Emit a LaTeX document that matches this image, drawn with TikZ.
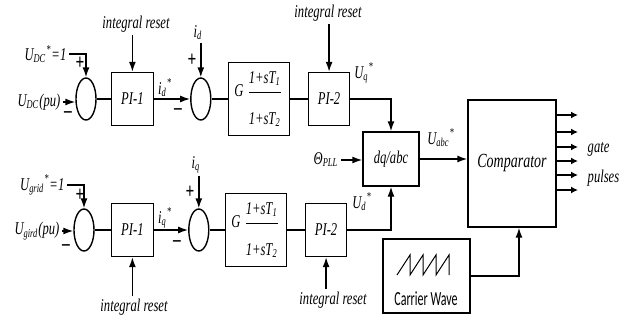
\documentclass[tikz,border=0pt]{standalone}
\usepackage{fontspec}
\setmainfont{Liberation Serif}[FakeStretch=0.7]
\newfontfamily\carrierfont{Carlito}[FakeStretch=0.6]
\usetikzlibrary{arrows.meta,positioning,shapes.geometric}
\newcommand{\tsub}[1]{\textsubscript{#1}}
\newcommand{\tsup}[1]{\textsuperscript{#1}}
\newcommand{\leadlag}{G\,$\displaystyle\frac{\mbox{1+sT\tsub{1}}\rule[-3pt]{0pt}{0pt}}{\rule{0pt}{15pt}\mbox{1+sT\tsub{2}}}$}

\begin{document}
\begin{tikzpicture}[x=0.5pt,y=-0.5pt,line width=0.7pt,>={Latex[length=5pt,width=3.5pt]},
  every node/.style={font=\fontsize{9}{10}\selectfont\itshape,inner sep=1pt},
  sumnode/.style={draw,ellipse,minimum width=10pt,minimum height=21pt,inner sep=0pt},
  blk/.style={draw,minimum width=21pt,minimum height=26.5pt},
  sgn/.style={font=\fontsize{11}{11}\selectfont\bfseries,inner sep=0pt}]
\useasboundingbox (0,0) rectangle (644,322);

% d row
\node[sumnode] (s1) at (86,99) {};
\node[blk,right=7pt of s1] (p1) {PI-1};
\node[sumnode,right=18pt of p1] (s2) {};
\node[blk,right=8pt of s2,minimum width=30.5pt,minimum height=36.5pt,inner sep=0pt] (g1) {\leadlag};
\node[blk,right=9pt of g1,minimum width=20.5pt] (q1) {PI-2};

% q row
\node[sumnode] (s3) at (84,230) {};
\node[blk,right=8pt of s3] (p3) {PI-1};
\node[sumnode,right=17pt of p3] (s4) {};
\node[blk,right=7.5pt of s4,minimum width=30.5pt,minimum height=36.5pt,inner sep=0pt] (g2) {\leadlag};
\node[blk,right=9pt of g2,minimum width=20.5pt] (q2) {PI-2};

\node[blk,minimum width=28pt,minimum height=27pt] (dq) at (391,159) {dq/abc};
\node[draw,minimum width=44pt,minimum height=63.5pt,font=\fontsize{10}{12}\selectfont\itshape] (cmp) at (512,163.5) {Comparator};
\node[draw,minimum width=43.5pt,minimum height=37pt] (cw) at (426.5,276) {};
\node[font=\fontsize{10}{12}\selectfont\carrierfont] (cwt) at (426,299) {Carrier Wave};
\draw[line width=0.5pt] (397,275) -- (410,255) -- (410,275) -- (423,255) -- (423,275)
  -- (436,255) -- (436,275) -- (449,255) -- (449,275);

% labels
\node[anchor=east] (udcr) at (69,54) {U\tsub{DC}\tsup{*}=1};
\node[anchor=east] (udc) at (63,102) {U\tsub{DC}(pu)};
\node[sgn] (pl1) at (80,63) {+};
\node[sgn] (mi1) at (68,115) {–};
\node (ir1) at (136,24) {integral reset};
\node (id) at (198,33) {i\tsub{d}};
\node (idr) at (165,88) {i\tsub{d}\tsup{*}};
\node[sgn] (pl2) at (192,60) {+};
\node[sgn] (mi2) at (178,112) {–};
\node (ir2) at (328,13) {integral reset};
\node (uq) at (364,73) {U\tsub{q}\tsup{*}};

\node[anchor=east] (ugr) at (67,185) {U\tsub{grid}\tsup{*}=1};
\node[anchor=east] (ug) at (62,231) {U\tsub{gird}(pu)};
\node[sgn] (pl3) at (80,195) {+};
\node[sgn] (mi3) at (66,248) {–};
\node (ir3) at (134,307) {integral reset};
\node (iq) at (196,165) {i\tsub{q}};
\node (iqr) at (165,218) {i\tsub{q}\tsup{*}};
\node[sgn] (pl4) at (190,192) {+};
\node[sgn] (mi4) at (177,244) {–};
\node (ir4) at (333,300) {integral reset};
\node (ud) at (362,202) {U\tsub{d}\tsup{*}};

\node[anchor=east] (th) at (341,160) {Θ\tsub{PLL}};
\node (uabc) at (441,138) {U\tsub{abc}\tsup{*}};
\node[anchor=west] (gt) at (585,149) {gate};
\node[anchor=west] (pu) at (585,178) {pulses};

% connectors
\draw[->] (udcr.east) -| (s1.north);
\draw[->] (udc.east) -- (udc.east -| s1.west);
\draw (s1) -- (p1);
\draw[->] (ir1.south -| p1.north) -- (p1.north);
\draw[->] (p1) -- (s2);
\draw[->] (s2.north |- id.south) -- (s2.north);
\draw (s2) -- (g1);
\draw (g1) -- (q1);
\draw[->] (ir2.south -| q1.north) -- (q1.north);
\draw[->] (q1.east) -| (dq.north);

\draw[->] (ugr.east) -| (s3.north);
\draw[->] (ug.east) -- (ug.east -| s3.west);
\draw (s3) -- (p3);
\draw[->] (ir3.north -| p3.south) -- (p3.south);
\draw[->] (p3) -- (s4);
\draw[->] (s4.north |- iq.south) -- (s4.north);
\draw (s4) -- (g2);
\draw (g2) -- (q2);
\draw[->] (q2.south |- ir4.north) -- (q2.south);
\draw[->] (q2.east) -| (dq.south);

\draw[->] (th.east) -- (th.east -| dq.west);
\draw[->] (dq.east) -- (dq.east -| cmp.west);
\draw[->] (cw.east) -| ([xshift=3.5pt]cmp.south);
\foreach \y [count=\i] in {115,132,147,161,175,190} {
  \coordinate (o\i) at (578,\y);
  \draw[->,line width=1.1pt,>={Latex[length=3.5pt,width=3.5pt]}] (cmp.east |- o\i) -- (o\i);
}
\end{tikzpicture}
\end{document}
